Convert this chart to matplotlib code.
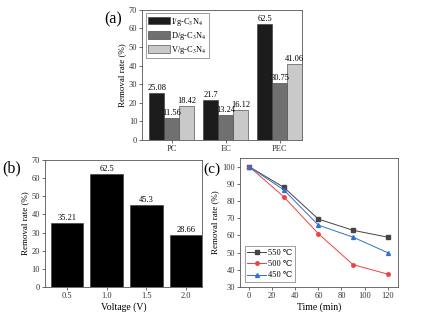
import matplotlib
matplotlib.use("Agg")
import matplotlib.pyplot as plt
import numpy as np

plt.rcParams['font.family'] = ['Liberation Serif', 'DejaVu Serif']
plt.rcParams['mathtext.fontset'] = 'stix'

# Panel (a)
cats_a = ['PC', 'EC', 'PEC']
series_a = ['I/g-C$_3$N$_4$', 'D/g-C$_3$N$_4$', 'V/g-C$_3$N$_4$']
vals_I = [25.08, 21.7, 62.5]
vals_D = [11.56, 13.24, 30.75]
vals_V = [18.42, 16.12, 41.06]
labels_I = ['25.08', '21.7', '62.5']
labels_D = ['11.56', '13.24', '30.75']
labels_V = ['18.42', '16.12', '41.06']

# Panel (b)
voltages = ['0.5', '1.0', '1.5', '2.0']
volt_x = [0.5, 1.0, 1.5, 2.0]
vals_b = [35.21, 62.5, 45.3, 28.66]
labels_b = ['35.21', '62.5', '45.3', '28.66']

# Panel (c)
time_min = [0, 30, 60, 90, 120]
r550 = [100, 88, 69.5, 63, 59]
r500 = [100, 82.5, 61, 43, 37.5]
r450 = [100, 86.5, 66, 59, 50]

fig = plt.figure(figsize=(4.27, 3.15), dpi=100)
fs = 6

def style(ax):
    for s in ax.spines.values():
        s.set_color('#555555')
        s.set_linewidth(0.6)
    ax.tick_params(labelsize=fs, width=0.5, length=2, colors='#333333', pad=1.5)

# (a)
axa = fig.add_axes([0.333, 0.556, 0.375, 0.413])
x = np.arange(len(cats_a))
w = 0.28
colors = ['#1c1c1c', '#707070', '#c9c9c9']
for i, (vals, labs, name, c) in enumerate(zip([vals_I, vals_D, vals_V],
                                              [labels_I, labels_D, labels_V],
                                              series_a, colors)):
    pos = x + (i - 1) * w
    axa.bar(pos, vals, w, color=c, edgecolor='#333333', linewidth=0.4, label=name)
    for p, v, l in zip(pos, vals, labs):
        axa.text(p, v + 0.5, l, ha='center', va='bottom', fontsize=fs)
axa.set_xlim(-0.55, 2.42)
axa.set_ylim(0, 70)
axa.set_xticks(x)
axa.set_xticklabels(cats_a)
axa.set_yticks(range(0, 71, 10))
axa.set_ylabel('Removal rate (%)', fontsize=6.5, labelpad=2)
style(axa)
axa.legend(loc='upper left', fontsize=fs, frameon=True, fancybox=False,
           edgecolor='#555555', borderpad=0.3, handlelength=2.6, handleheight=1.0,
           labelspacing=0.25, handletextpad=0.2, borderaxespad=0.4).get_frame().set_linewidth(0.5)
fig.text(0.245, 0.925, '(a)', fontsize=11.5)

# (b)
axb = fig.add_axes([0.105, 0.089, 0.368, 0.403])
axb.bar(volt_x, vals_b, 0.41, color='black', edgecolor='#333333', linewidth=0.4)
for p, v, l in zip(volt_x, vals_b, labels_b):
    axb.text(p, v + 0.4, l, ha='center', va='bottom', fontsize=fs)
axb.set_xlim(0.22, 2.2)
axb.set_ylim(0, 70)
axb.set_xticks(volt_x)
axb.set_xticklabels(voltages)
axb.set_yticks(range(0, 71, 10))
axb.set_ylabel('Removal rate (%)', fontsize=6.5, labelpad=2)
axb.set_xlabel('Voltage (V)', fontsize=7, labelpad=2)
style(axb)
fig.text(0.005, 0.452, '(b)', fontsize=11.5)

# (c)
axc = fig.add_axes([0.562, 0.089, 0.370, 0.409])
axc.plot(time_min, r550, color='#444444', marker='s', ms=2.5, lw=0.7, label='550 \u2103')
axc.plot(time_min, r500, color='#f04040', marker='o', ms=2.5, lw=0.7, label='500 \u2103')
axc.plot(time_min, r450, color='#3070d0', marker='^', ms=2.8, lw=0.7, label='450 \u2103')
axc.set_xlim(-8, 129)
axc.set_ylim(30, 105)
axc.set_xticks(range(0, 121, 20))
axc.set_yticks(range(30, 101, 10))
axc.set_ylabel('Removal rate (%)', fontsize=6.5, labelpad=2)
axc.set_xlabel('Time (min)', fontsize=7, labelpad=2)
style(axc)
leg = axc.legend(loc='lower left', fontsize=fs, frameon=True, fancybox=False,
                 edgecolor='#555555', borderpad=0.3, handlelength=2.2,
                 labelspacing=0.4, handletextpad=0.3, borderaxespad=0.6)
leg.get_frame().set_linewidth(0.5)
fig.text(0.476, 0.452, '(c)', fontsize=11)

fig.savefig('out.png', dpi=100)
